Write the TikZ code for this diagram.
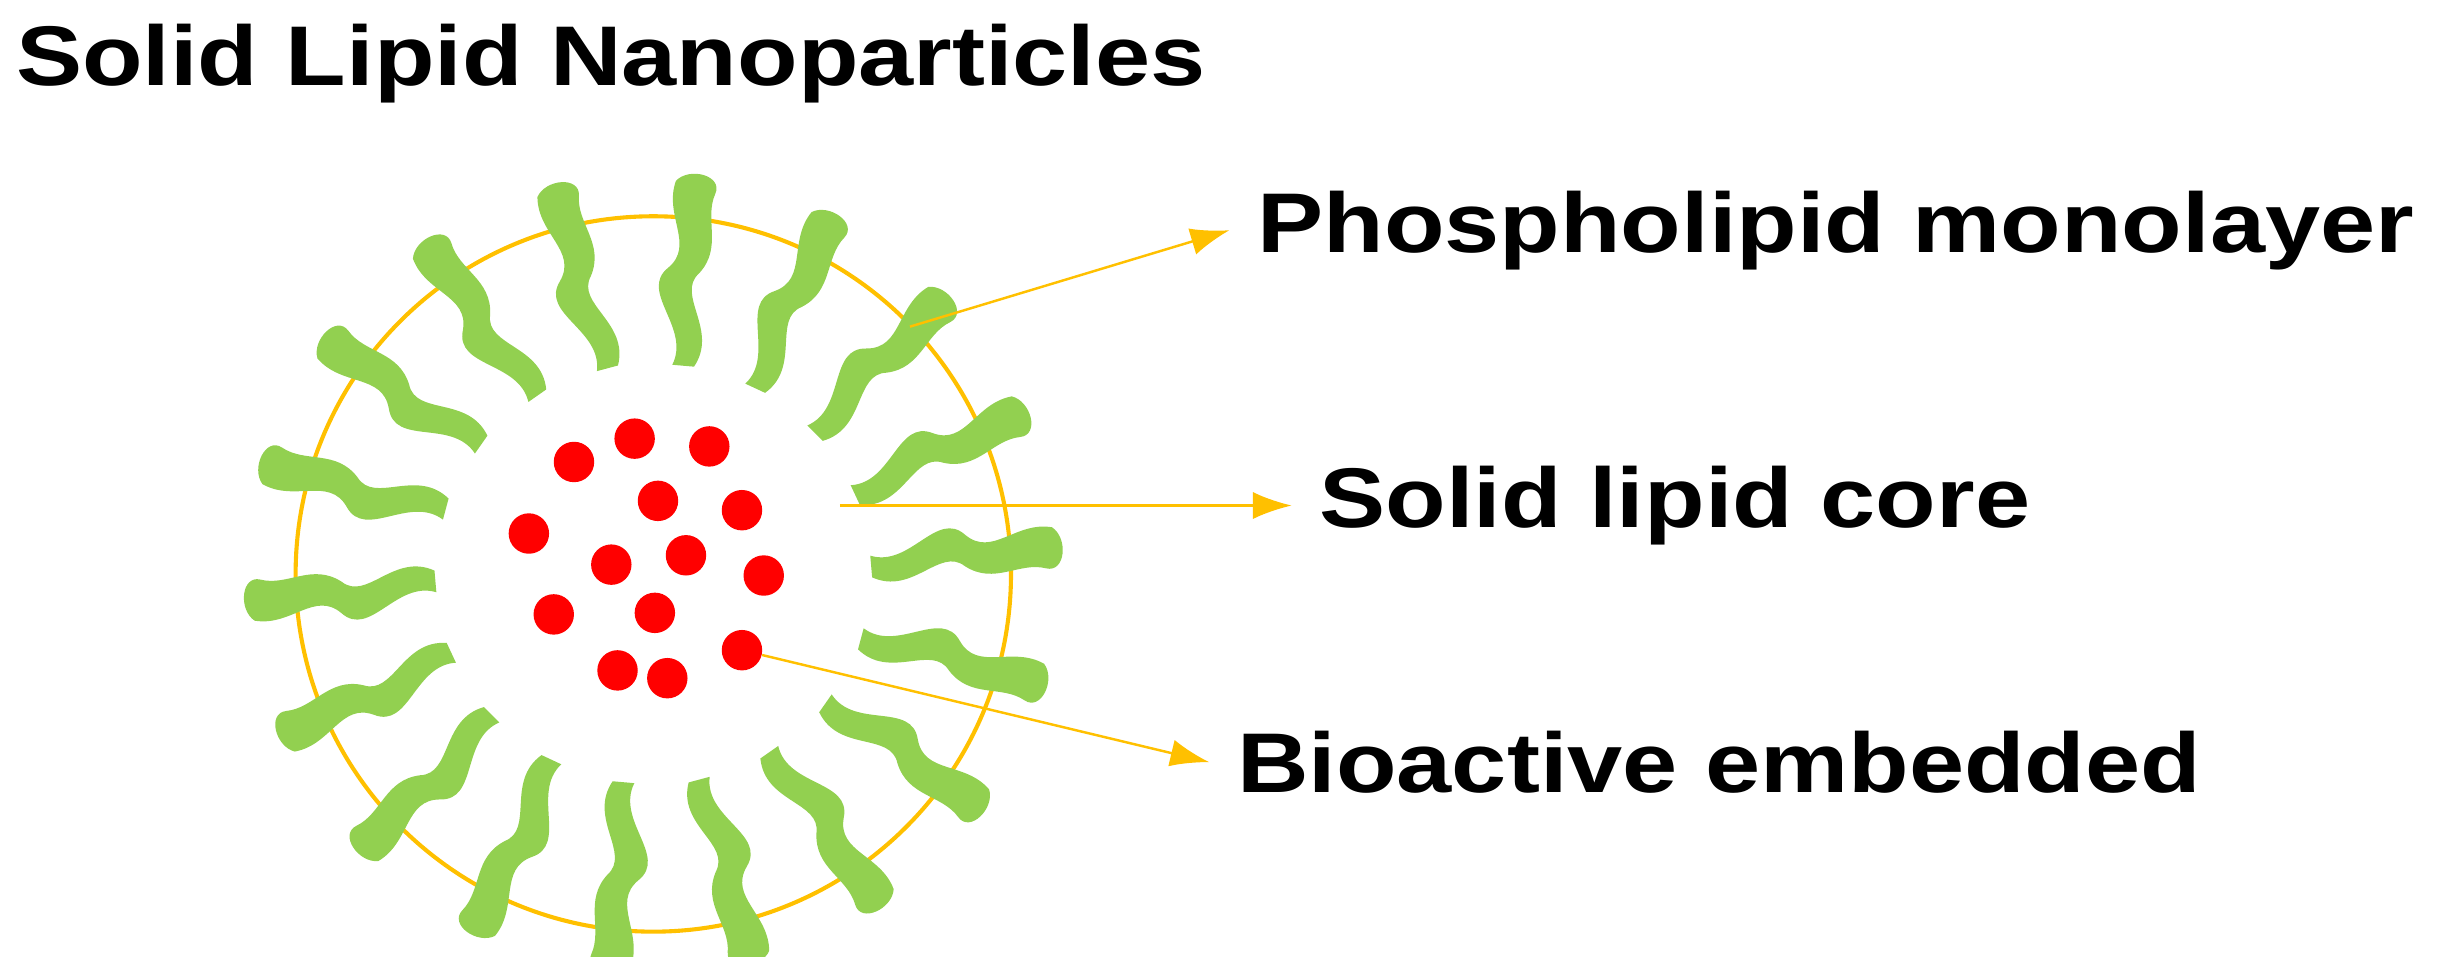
\documentclass[tikz,border=0pt]{standalone}
\usepackage{fontspec}
\setmainfont{Liberation Sans}
\usetikzlibrary{arrows.meta}
\definecolor{lipid}{HTML}{92D050}
\definecolor{gold}{HTML}{FFC000}
\begin{document}
\begin{tikzpicture}[x=0.02cm,y=0.02cm,
  lbl/.style={anchor=west,inner sep=0pt,font=\fontsize{31}{34}\selectfont\bfseries},
  arr/.style={draw=gold,line width=0.9pt,-{Latex[length=5mm,width=3.5mm]}},
  dot/.style={circle,fill=red,inner sep=0pt,minimum size=0.52cm},
  tail/.pic={\fill[lipid,draw=none]
      (0,0) .. controls (10,25) and (-26,45) .. (-8,62) .. controls (8,78) and (-14,95) .. (-8,118)
      .. controls (0,128) and (22,124) .. (18,112) .. controls (12,95) and (26,78) .. (12,60) .. controls (-2,45) and (28,25) .. (14,0) -- cycle;}]
\useasboundingbox (0,0) rectangle (1568,615);
\node[anchor=north west,inner sep=0pt,font=\fontsize{31}{34}\selectfont\bfseries] (title) at (10,600) {\scalebox{1.17}[1]{Solid Lipid Nanoparticles}};
\node[circle,draw=gold,line width=1.5pt,minimum size=9.2cm] (c) at (420,246) {};
\foreach \a [count=\i] in {5,25,...,345}{
  \pic[rotate=\a-90] at ({420+140*cos(\a)},{246+135*sin(\a)}) {tail};
}
\foreach \x/\y [count=\i] in {408/282,456/287,369/297,423/322,477/328,340/343,393/363,441/357,491/370,356/395,421/394,397/431,429/436,477/418}
  \node[dot] (d\i) at (\x,615-\y) {};
\node[lbl] (l1) at (808,467) {\scalebox{1.17}[1]{Phospholipid monolayer}};
\node[lbl] (l2) at (848,290) {\scalebox{1.17}[1]{Solid lipid core}};
\node[lbl] (l3) at (795,125) {\scalebox{1.17}[1]{Bioactive embedded}};
\coordinate (s1) at (585,405);
\coordinate (s2) at (540,290);
\draw[arr] (s1) -- ([xshift=-10pt]l1.west);
\draw[arr] (s2) -- ([xshift=-10pt]l2.west);
\draw[arr] (d14) -- ([xshift=-10pt]l3.west);
\end{tikzpicture}
\end{document}
